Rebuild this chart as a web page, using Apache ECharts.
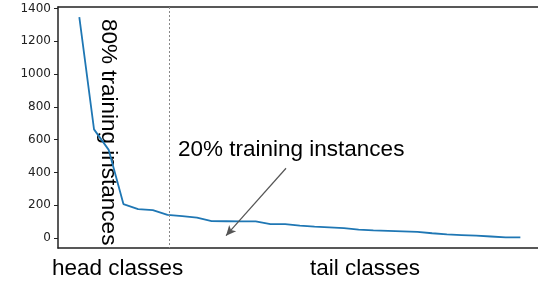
<!DOCTYPE html>
<html>
<head>
<meta charset="utf-8">
<script src="https://cdn.jsdelivr.net/npm/echarts@6/dist/echarts.min.js"></script>
<style>
  html, body { margin: 0; padding: 0; background: #fff; }
  #chart { width: 538px; height: 282px; }
</style>
</head>
<body>
<div id="chart"></div>
<script>
// classes sorted by instance count (index = class rank)
const classIdx = [0, 1, 2, 3, 4, 5, 6, 7, 8, 9, 10, 11, 12, 13, 14, 15,
  16, 17, 18, 19, 20, 21, 22, 23, 24, 25, 26, 27, 28, 29, 30]
const counts = [1347, 663, 538, 208, 177, 171, 142, 134, 125, 104, 103,
  102, 102, 86, 86, 76, 70, 66, 61, 52, 47, 44, 41, 38, 30, 23, 19, 15, 10, 5, 5]
const yTicks = [0, 200, 400, 600, 800, 1000, 1200, 1400]

// head / tail split and the annotation arrow (data space)
const splitAt = 6.12
const arrowFrom = [14.06, 426]
const arrowTo = [9.98, 15]

const chart = echarts.init(document.getElementById('chart'))

const frameLine = { show: true, onZero: false, lineStyle: { color: '#222', width: 1.5 } }

const option = {
  animation: false,
  grid: { left: 58, right: 0, top: 7, bottom: 34 },
  xAxis: [
    {
      type: 'value',
      min: -1.45,
      max: 31.2,
      axisLine: frameLine,
      axisTick: { show: false },
      axisLabel: { show: false },
      splitLine: { show: false }
    },
    {
      type: 'value',
      position: 'top',
      min: -1.45,
      max: 31.2,
      axisLine: frameLine,
      axisTick: { show: false },
      axisLabel: { show: false },
      splitLine: { show: false }
    }
  ],
  yAxis: {
    type: 'value',
    min: -60,
    max: 1409,
    axisLine: frameLine,
    axisTick: {
      show: true,
      length: 4,
      customValues: yTicks,
      lineStyle: { color: '#222' }
    },
    axisLabel: {
      customValues: yTicks,
      formatter: v => String(v),
      margin: 7,
      color: '#222',
      fontSize: 12,
      fontFamily: 'DejaVu Sans'
    },
    splitLine: { show: false }
  },
  series: [{
    type: 'line',
    data: classIdx.map((x, i) => [x, counts[i]]),
    showSymbol: false,
    lineStyle: { color: '#1f77b4', width: 1.8 },
    markLine: {
      silent: true,
      label: { show: false },
      data: [
        [
          { coord: [splitAt, 1409], symbol: 'none', lineStyle: { color: '#888', type: [2, 2], width: 1 } },
          { coord: [splitAt, -60], symbol: 'none' }
        ],
        [
          { coord: arrowFrom, symbol: 'none', lineStyle: { color: '#555', type: 'solid', width: 1.2 } },
          { coord: arrowTo, symbol: 'arrow', symbolSize: [7, 10] }
        ]
      ]
    }
  }],
  graphic: [
    {
      type: 'text',
      x: 108,
      y: 19,
      rotation: -Math.PI / 2,
      style: {
        text: '80% training instances',
        font: '22.5px "Liberation Sans", Arial, sans-serif',
        fill: '#000',
        textAlign: 'left',
        textVerticalAlign: 'middle'
      }
    },
    {
      type: 'text',
      x: 178,
      y: 161,
      style: {
        text: '20% training instances',
        font: '22.5px "Liberation Sans", Arial, sans-serif',
        fill: '#000',
        textAlign: 'left',
        textVerticalAlign: 'bottom'
      }
    },
    {
      type: 'text',
      x: 52,
      y: 280,
      style: {
        text: 'head classes',
        font: '22.5px "Liberation Sans", Arial, sans-serif',
        fill: '#000',
        textAlign: 'left',
        textVerticalAlign: 'bottom'
      }
    },
    {
      type: 'text',
      x: 310,
      y: 280,
      style: {
        text: 'tail classes',
        font: '22.5px "Liberation Sans", Arial, sans-serif',
        fill: '#000',
        textAlign: 'left',
        textVerticalAlign: 'bottom'
      }
    }
  ]
}

chart.setOption(option)
</script>
</body>
</html>
